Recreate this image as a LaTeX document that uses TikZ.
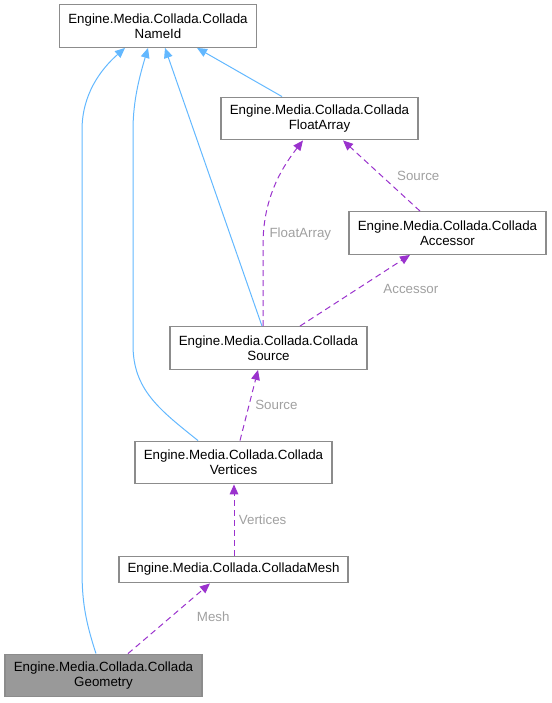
\documentclass[tikz,border=0pt]{standalone}
\usepackage{fontspec}
\setmainfont{Liberation Sans}
\usepackage{tikz}
\usetikzlibrary{positioning,arrows.meta,calc}

\definecolor{inhblue}{RGB}{99,184,255}
\definecolor{usepurple}{RGB}{154,50,205}
\definecolor{boxedge}{RGB}{140,140,140}
\definecolor{labgray}{RGB}{160,160,160}
\definecolor{curfill}{RGB}{153,153,153}

\begin{document}
\begin{tikzpicture}[x=0.75pt, y=-0.75pt,
  cls/.style={rectangle, draw=boxedge, fill=#1, line width=0.9pt,
              minimum width=147.75pt, minimum height=32pt, inner sep=0pt,
              align=center, font=\fontsize{10}{11}\selectfont},
  cls/.default=white,
  inh/.style={-{Triangle[length=7.5pt,width=6.5pt]}, inhblue, line width=0.75pt},
  ref/.style={-{Triangle[length=7.5pt,width=6.5pt]}, usepurple, line width=0.75pt,
              dash pattern=on 4.5pt off 3pt},
  lb/.style={font=\fontsize{10}{11}\selectfont, text=labgray},
]
\useasboundingbox (0,0) rectangle (551,703);

\node[cls]         (nameid)   at (158,26)      {Engine.Media.Collada.Collada\\NameId};
\node[cls]         (floatarr) at (319.5,118.5) {Engine.Media.Collada.Collada\\FloatArray};
\node[cls]         (accessor) at (447.5,233)   {Engine.Media.Collada.Collada\\Accessor};
\node[cls]         (source)   at (268.5,348)   {Engine.Media.Collada.Collada\\Source};
\node[cls]         (vertices) at (233.5,462.5) {Engine.Media.Collada.Collada\\Vertices};
\node[cls, minimum width=171.75pt, minimum height=20pt]
                   (mesh)     at (233.5,569.5) {Engine.Media.Collada.ColladaMesh};
\node[cls=curfill] (geom)     at (103.5,675.5) {Engine.Media.Collada.Collada\\Geometry};

% inheritance
\draw[inh] ($(geom.north)+(-7.5,0)$) .. controls (85,620) and (82,600) .. (82,570)
    -- (82,130) .. controls (82,95) and (100,70) .. ($(nameid.south)+(-33,0)$);
\draw[inh] ($(vertices.north)+(-35.5,0)$) .. controls (160,410) and (133,390) .. (133,345)
    -- (133,130) .. controls (133,100) and (140,75) .. ($(nameid.south)+(-10,0)$);
\draw[inh] ($(source.north)+(-6.5,0)$) -- ($(nameid.south)+(7,0)$);
\draw[inh] ($(floatarr.north)+(-37.5,0)$) -- ($(nameid.south)+(39,0)$);

% usage
\draw[ref] ($(source.north)+(-5.5,0)$) -- (263,245) .. controls (263,200) and (280,170)
    .. node[lb, pos=0.08, right=1pt] {FloatArray} ($(floatarr.south)+(-16.5,0)$);
\draw[ref] ($(accessor.north)+(-27.5,0)$) -- node[lb, pos=0.5, right=8pt] {Source}
    ($(floatarr.south)+(23.5,0)$);
\draw[ref] ($(source.north)+(31.5,0)$) -- node[lb, pos=0.52, right=16pt] {Accessor}
    ($(accessor.south)+(-37.5,0)$);
\draw[ref] ($(vertices.north)+(6.5,0)$) -- node[lb, pos=0.5, right=1pt] {Source}
    ($(source.south)+(-10.5,0)$);
\draw[ref] ($(mesh.north)+(0.5,0)$) -- node[lb, pos=0.5, right=0pt] {Vertices}
    ($(vertices.south)+(0.5,0)$);
\draw[ref] ($(geom.north)+(24.5,0)$) -- node[lb, pos=0.52, right=16pt] {Mesh}
    ($(mesh.south)+(-23.5,0)$);
\end{tikzpicture}
\end{document}
